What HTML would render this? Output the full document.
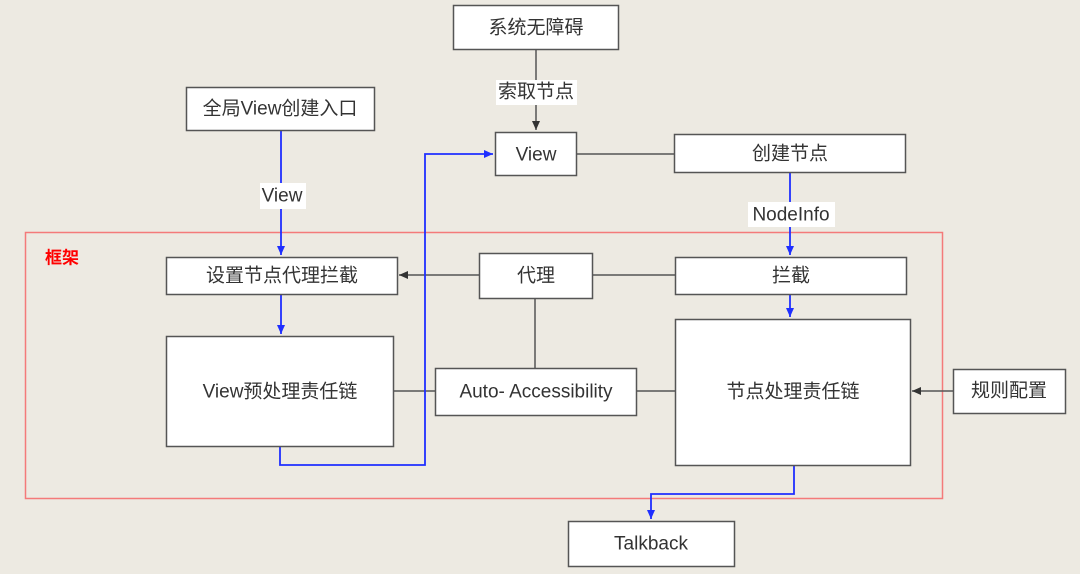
<!DOCTYPE html>
<html><head><meta charset="utf-8"><style>
html,body{margin:0;padding:0;background:#edeae2;}
svg{display:block;}
text{font-family:"Liberation Sans","Noto Sans CJK SC",sans-serif;font-size:19px;fill:#333;text-anchor:middle;dominant-baseline:central;}
</style></head><body>
<svg width="1080" height="574" viewBox="0 0 1080 574" xmlns="http://www.w3.org/2000/svg">
<defs>
<marker id="ab" markerWidth="10" markerHeight="10" refX="9" refY="5" orient="auto" markerUnits="userSpaceOnUse"><path d="M0,1 L9,5 L0,9 Z" fill="#1f2fff"/></marker>
<marker id="ak" markerWidth="10" markerHeight="10" refX="9" refY="5" orient="auto" markerUnits="userSpaceOnUse"><path d="M0,1 L9,5 L0,9 Z" fill="#333"/></marker>
</defs>
<rect width="1080" height="574" fill="#edeae2"/>
<!-- frame -->
<rect x="25.5" y="232.5" width="917" height="266" fill="none" stroke="#f47a7a" stroke-width="1.5"/>
<text x="62" y="258" style="fill:#f00;font-size:17px;font-weight:bold">框架</text>
<!-- black connectors -->
<g stroke="#555" stroke-width="1.5" fill="none">
<line x1="536" y1="49" x2="536" y2="130" marker-end="url(#ak)"/>
<line x1="577" y1="154" x2="674" y2="154"/>
<line x1="675" y1="275" x2="592" y2="275"/>
<line x1="479" y1="275" x2="399" y2="275" marker-end="url(#ak)"/>
<line x1="535" y1="298" x2="535" y2="368"/>
<line x1="393" y1="391" x2="435" y2="391"/>
<line x1="636" y1="391" x2="675" y2="391"/>
<line x1="953" y1="391" x2="912" y2="391" marker-end="url(#ak)"/>
</g>
<!-- blue connectors -->
<g stroke="#1f2fff" stroke-width="1.8" fill="none">
<line x1="281" y1="131" x2="281" y2="255" marker-end="url(#ab)"/>
<line x1="281" y1="294" x2="281" y2="334" marker-end="url(#ab)"/>
<polyline points="280,446 280,465 425,465 425,154 493,154" marker-end="url(#ab)"/>
<line x1="790" y1="172" x2="790" y2="255" marker-end="url(#ab)"/>
<line x1="790" y1="294" x2="790" y2="317" marker-end="url(#ab)"/>
<polyline points="794,466 794,494 651,494 651,519" marker-end="url(#ab)"/>
</g>
<!-- labels on lines -->
<rect x="496" y="80" width="81" height="25" fill="#fff"/><text x="536" y="92">索取节点</text>
<rect x="260" y="183" width="46" height="26" fill="#fff"/><text x="282" y="196">View</text>
<rect x="748" y="202" width="87" height="25" fill="#fff"/><text x="791" y="215">NodeInfo</text>
<!-- boxes -->
<g fill="#fff" stroke="#555" stroke-width="1.5">
<rect x="453.5" y="5.5" width="165" height="44"/>
<rect x="186.5" y="87.5" width="188" height="43"/>
<rect x="495.5" y="132.5" width="81" height="43"/>
<rect x="674.5" y="134.5" width="231" height="38"/>
<rect x="166.5" y="257.5" width="231" height="37"/>
<rect x="479.5" y="253.5" width="113" height="45"/>
<rect x="675.5" y="257.5" width="231" height="37"/>
<rect x="166.5" y="336.5" width="227" height="110"/>
<rect x="435.5" y="368.5" width="201" height="47"/>
<rect x="675.5" y="319.5" width="235" height="146"/>
<rect x="953.5" y="369.5" width="112" height="44"/>
<rect x="568.5" y="521.5" width="166" height="45"/>
</g>
<text x="536" y="28">系统无障碍</text>
<text x="280" y="109">全局View创建入口</text>
<text x="536" y="155">View</text>
<text x="790" y="154">创建节点</text>
<text x="282" y="276">设置节点代理拦截</text>
<text x="536" y="276">代理</text>
<text x="791" y="276">拦截</text>
<text x="280" y="392">View预处理责任链</text>
<text x="536" y="392">Auto- Accessibility</text>
<text x="793" y="392">节点处理责任链</text>
<text x="1009" y="391">规则配置</text>
<text x="651" y="544">Talkback</text>
</svg>
</body></html>
